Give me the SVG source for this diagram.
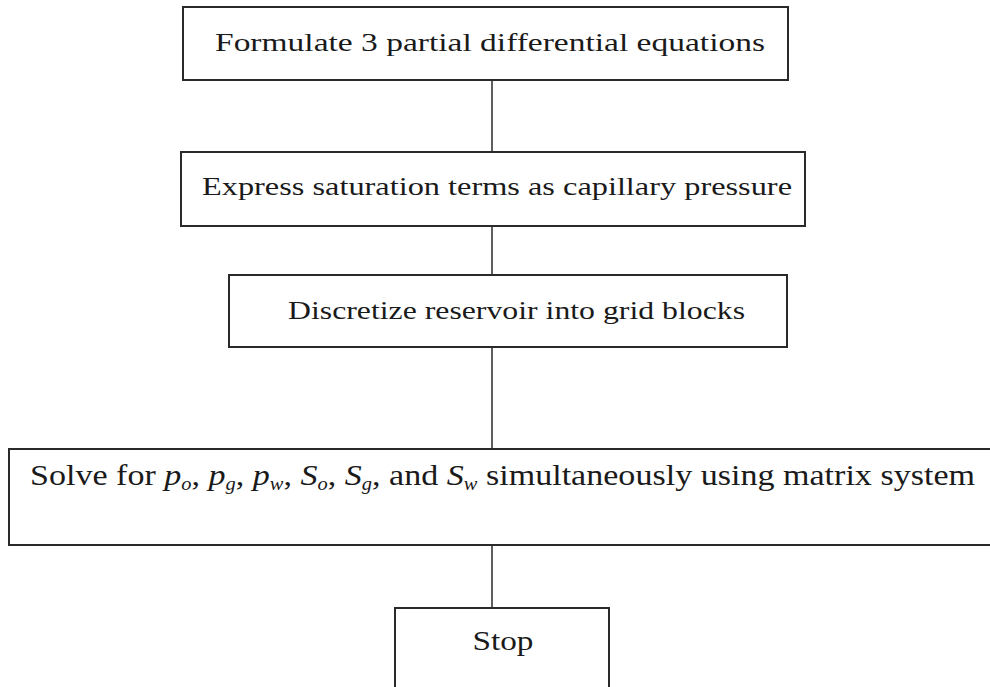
<svg xmlns="http://www.w3.org/2000/svg" width="990" height="687" viewBox="0 0 990 687">
<style>
.box{fill:#fff;stroke:#2a2a2a;stroke-width:2}
.lbl{font-family:'Liberation Serif',serif;fill:#1a1a1a}
.con line{stroke:#2a2a2a;stroke-width:1.5}
.it{font-style:italic}
.sub{font-size:18px}
</style>
<rect width="990" height="687" fill="#fff"/>
<g class="con" id="connectors">
<line x1="492" y1="80" x2="492" y2="152"/>
<line x1="492" y1="226" x2="492" y2="275"/>
<line x1="492" y1="347" x2="492" y2="449"/>
<line x1="492" y1="545" x2="492" y2="608"/>
</g>
<g id="n1">
<rect class="box" x="183" y="7" width="605" height="73"/>
<text class="lbl" font-family="Liberation Serif" x="215" y="51" font-size="26" textLength="550" lengthAdjust="spacingAndGlyphs">Formulate 3 partial differential  equations</text>
</g>
<g id="n2">
<rect class="box" x="181" y="152" width="624" height="74"/>
<text class="lbl" font-family="Liberation Serif" x="202" y="195" font-size="26" textLength="590" lengthAdjust="spacingAndGlyphs">Express saturation terms as capillary  pressure</text>
</g>
<g id="n3">
<rect class="box" x="229" y="275" width="558" height="72"/>
<text class="lbl" font-family="Liberation Serif" x="288" y="319" font-size="26" textLength="457" lengthAdjust="spacingAndGlyphs">Discretize reservoir into grid blocks</text>
</g>
<g id="n4">
<rect class="box" x="9" y="449" width="990" height="96"/>
<text class="lbl" font-family="Liberation Serif" x="30" y="485" font-size="30" textLength="945" lengthAdjust="spacingAndGlyphs">Solve for <tspan class="it">p</tspan><tspan class="it sub" dy="5">o</tspan><tspan dy="-5">, </tspan><tspan class="it">p</tspan><tspan class="it sub" dy="5">g</tspan><tspan dy="-5">, </tspan><tspan class="it">p</tspan><tspan class="it sub" dy="5">w</tspan><tspan dy="-5">, </tspan><tspan class="it">S</tspan><tspan class="it sub" dy="5">o</tspan><tspan dy="-5">, </tspan><tspan class="it">S</tspan><tspan class="it sub" dy="5">g</tspan><tspan dy="-5">, and </tspan><tspan class="it">S</tspan><tspan class="it sub" dy="5">w</tspan><tspan dy="-5"> simultaneously using matrix system</tspan></text>
</g>
<g id="n5">
<rect class="box" x="395" y="608" width="214" height="90"/>
<text class="lbl" font-family="Liberation Serif" x="503" y="650" font-size="28" text-anchor="middle" textLength="61" lengthAdjust="spacingAndGlyphs">Stop</text>
</g>
</svg>
